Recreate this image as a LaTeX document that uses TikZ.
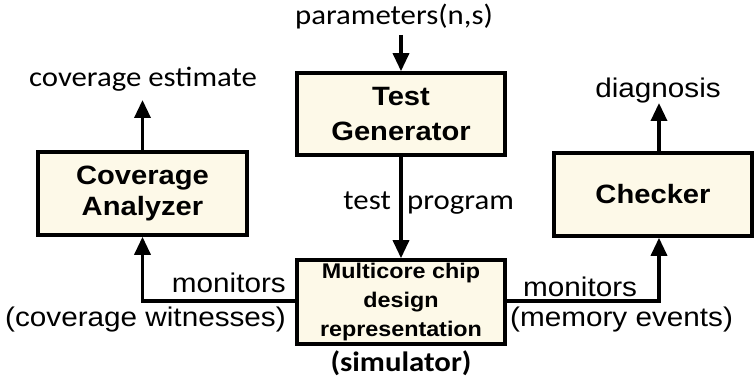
\documentclass[tikz,border=0pt]{standalone}
\usepackage{fontspec}
\usetikzlibrary{arrows.meta}
\newfontfamily\arialf[FakeStretch=1.1]{Liberation Sans}
\newfontfamily\calf[FakeStretch=1.1]{Carlito}
\definecolor{cream}{RGB}{253,249,232}
\begin{document}
\begin{tikzpicture}[x=1pt,y=-1pt,
  blk/.style={draw=black, line width=3.6pt, fill=cream, inner sep=0pt, align=center},
  bigf/.style={font=\arialf\bfseries\fontsize{26.5}{33}\selectfont},
  smallf/.style={font=\arialf\bfseries\fontsize{21.2}{29}\selectfont},
  albl/.style={inner sep=0pt, font=\arialf\fontsize{27}{32}\selectfont},
  nlbl/.style={inner sep=0pt, font=\calf\fontsize{28}{32}\selectfont},
  conn/.style={line width=3.4pt, -{Triangle[length=18pt,width=16pt]}}]
\useasboundingbox (0,0) rectangle (756,382);
% boxes
\node[blk, bigf, minimum width=208pt, minimum height=82pt] (tg) at (401,114) {Test\\[2pt]Generator};
\node[blk, bigf, minimum width=209pt, minimum height=83pt] (ca) at (142.5,193.5) {Coverage\\[-2pt]Analyzer};
\node[blk, bigf, minimum width=198pt, minimum height=83pt] (ck) at (653,194.5) {Checker};
\node[blk, smallf, minimum width=208pt, minimum height=84pt] (mc) at (401,302) {Multicore chip\\design\\representation};
% labels
\node[nlbl, anchor=base] (par) at (394,25) {parameters(n,s)};
\node[nlbl, anchor=base] (ce) at (143,87) {coverage estimate};
\node[albl, anchor=base] (dg) at (658,98) {diagnosis};
\node[nlbl, anchor=base east] (tp1) at (391,210) {test};
\node[nlbl, anchor=base west] (tp2) at (407,210) {program};
\node[nlbl, anchor=base, font=\calf\bfseries\fontsize{28}{32}\selectfont] (sim) at (401,372) {(simulator)};
\node[albl, anchor=base east] (mon1) at (286,293) {monitors};
\node[albl, anchor=base east] (cw) at (286,327) {(coverage witnesses)};
\node[albl, anchor=base west] (mon2) at (523,297) {monitors};
\node[albl, anchor=base west] (me) at (510,327) {(memory events)};
% connector anchors
\coordinate (ckt) at ([xshift=6pt]ck.north);
\coordinate (ckb) at ([xshift=6pt]ck.south);
\coordinate (dgb) at ([yshift=-5pt]dg.base);
\coordinate (ceb) at ([yshift=-13pt]ce.base);
\coordinate (parb) at ([yshift=-10pt]par.base);
% connectors
\draw[conn] (parb -| tg.north) -- (tg.north);
\draw[conn] (ca.north) -- (ceb -| ca.north);
\draw[conn] (ckt) -- (dgb -| ckt);
\draw[conn] (tg.south) -- (mc.north);
\draw[conn] ([yshift=1pt]mc.west) -| (ca.south);
\draw[conn] ([yshift=1pt]mc.east) -| (ckb);
\end{tikzpicture}
\end{document}
